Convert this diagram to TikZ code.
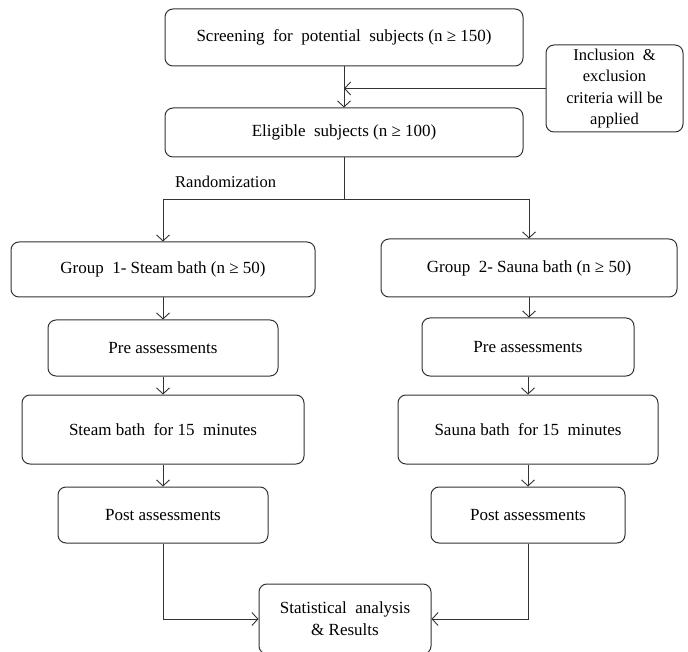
\documentclass[tikz,border=0pt]{standalone}
\usepackage{fontspec}
\setmainfont{Liberation Serif}
\usetikzlibrary{arrows.meta,calc}
\begin{document}
\begin{tikzpicture}[x=1pt,y=-1pt,
  box/.style={draw=black!80,line width=1pt,rounded corners=8pt,align=center,inner sep=0pt,
    font=\fontsize{17}{22}\selectfont},
  conn/.style={draw=black!80,line width=0.9pt},
  arr/.style={conn,-{Straight Barb[length=6pt,width=13pt]}}]
\useasboundingbox (0,0) rectangle (688,652);
\node[box,minimum width=358pt,minimum height=57pt] (scr) at (344,37.5) {Screening\ \ for\ \ potential\ \ subjects\ (n ≥ 150)};
\node[box,minimum width=137pt,minimum height=87pt,font=\fontsize{16.5}{21.5}\selectfont] (inc) at (614.5,88.5) {Inclusion\ \ \&\\exclusion\\criteria\ will\ be\\applied};
\node[box,minimum width=358pt,minimum height=49pt] (eli) at (344,132.5) {Eligible\ \ subjects (n ≥ 100)};
\node[box,minimum width=304pt,minimum height=55pt] (g1) at (163,269.5) {Group\ \ 1- Steam bath (n ≥ 50)};
\node[box,minimum width=296pt,minimum height=58pt] (g2) at (529,268) {Group\ \ 2- Sauna bath (n ≥ 50)};
\node[box,minimum width=230pt,minimum height=56pt] (pre1) at (163,348) {Pre assessments};
\node[box,minimum width=212pt,minimum height=58pt] (pre2) at (528,347) {Pre assessments};
\node[box,minimum width=282pt,minimum height=69pt] (st1) at (163,429.5) {Steam bath\ \ for 15\ \ minutes};
\node[box,minimum width=260pt,minimum height=69pt] (st2) at (528,429.5) {Sauna bath\ \ for 15\ \ minutes};
\node[box,minimum width=210pt,minimum height=56pt] (po1) at (163,515) {Post assessments};
\node[box,minimum width=194pt,minimum height=56pt] (po2) at (528,515) {Post assessments};
\node[box,minimum width=172pt,minimum height=70pt] (stat) at (345,619) {Statistical\ \ analysis\\\& Results};
\node[font=\fontsize{16.5}{18}\selectfont,anchor=west,inner sep=0pt] (rand) at (175,182) {Randomization};
% connectors
\draw[arr] (scr.south) -- (eli.north);
\coordinate (mid) at (scr.south |- inc.west);
\draw[arr] (inc.west) -- (mid);
\coordinate (split) at ($(eli.south)+(0,42)$);
\draw[conn] (eli.south) -- (split);
\draw[arr] (split) -| (g1.north);
\draw[arr] (split) -| (g2.north);
\draw[arr] (g1.south) -- (g1.south |- pre1.north);
\draw[arr] (g2.south) -- (g2.south |- pre2.north);
\draw[arr] (pre1.south) -- (pre1.south |- st1.north);
\draw[arr] (pre2.south) -- (pre2.south |- st2.north);
\draw[arr] (st1.south) -- (st1.south |- po1.north);
\draw[arr] (st2.south) -- (st2.south |- po2.north);
\draw[arr] (po1.south) |- (stat.west);
\draw[arr] (po2.south) |- (stat.east);
\end{tikzpicture}
\end{document}
